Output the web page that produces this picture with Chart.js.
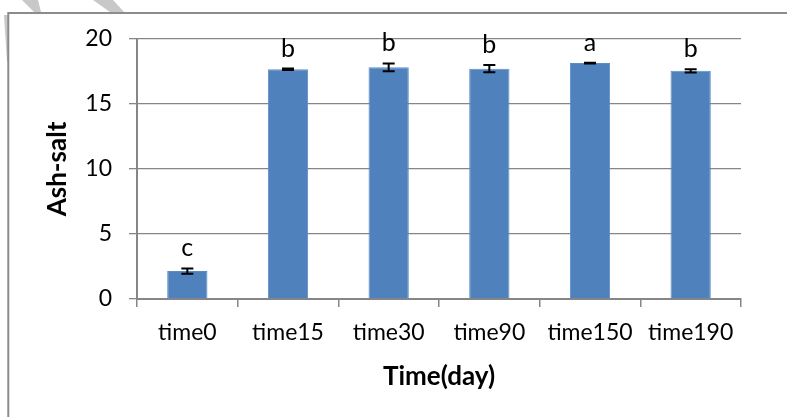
<!DOCTYPE html>
<html>
<head>
<meta charset="utf-8">
<script src="https://cdn.jsdelivr.net/npm/chart.js@4/dist/chart.umd.min.js"></script>
<style>
  html, body { margin: 0; padding: 0; background: #ffffff; }
  #wrap { position: relative; width: 787px; height: 417px; }
</style>
</head>
<body>
<div id="wrap"><canvas id="c" width="787" height="417"></canvas></div>
<script>
// ---- data ----
const categories = ['time0', 'time15', 'time30', 'time90', 'time150', 'time190'];
const ashSalt    = [2.15, 17.67, 17.82, 17.72, 18.15, 17.55];
const errors     = [0.2, 0.06, 0.3, 0.28, 0.03, 0.12];
const letters    = ['c', 'b', 'b', 'b', 'a', 'b'];
const yTicks     = [0, 5, 10, 15, 20];

const FONT = 'Lato, "Open Sans", sans-serif';
const GRAY = '#868686';

// frame + faint background shapes
const framePlugin = {
  id: 'frame',
  beforeDraw(chart) {
    const ctx = chart.ctx;
    ctx.save();
    ctx.fillStyle = '#ffffff';
    ctx.fillRect(0, 0, chart.width, chart.height);
    ctx.fillStyle = '#c8c8c8';
    const polys = [
      [[22,0],[38,0],[41,12],[34,12]],
      [[4,15],[8,15],[8,62],[7,62]],
      [[93,0],[113,0],[124,12],[110,12]]
    ];
    polys.forEach(p => {
      ctx.beginPath();
      ctx.moveTo(p[0][0], p[0][1]);
      for (let i = 1; i < p.length; i++) ctx.lineTo(p[i][0], p[i][1]);
      ctx.closePath();
      ctx.fill();
    });
    ctx.strokeStyle = '#8c8c8c';
    ctx.lineWidth = 2;
    ctx.beginPath();
    ctx.moveTo(787, 13);
    ctx.lineTo(8.3, 13);
    ctx.lineTo(8.3, 417);
    ctx.stroke();
    ctx.restore();
  }
};

// error bars + significance letters
const errPlugin = {
  id: 'errbars',
  afterDatasetsDraw(chart) {
    const ctx = chart.ctx;
    const meta = chart.getDatasetMeta(0);
    const y = chart.scales.y;
    ctx.save();
    ctx.strokeStyle = '#000000';
    ctx.lineWidth = 2;
    meta.data.forEach((bar, i) => {
      const v = ashSalt[i], e = errors[i];
      const x = bar.x;
      const yt = y.getPixelForValue(v + e);
      const yb = y.getPixelForValue(v - e);
      ctx.beginPath();
      ctx.moveTo(x, yt); ctx.lineTo(x, yb);
      ctx.moveTo(x - 6, yt); ctx.lineTo(x + 6, yt);
      ctx.moveTo(x - 6, yb); ctx.lineTo(x + 6, yb);
      ctx.stroke();
      ctx.fillStyle = '#000000';
      ctx.font = '25px ' + FONT;
      ctx.textAlign = 'center';
      ctx.textBaseline = 'alphabetic';
      ctx.fillText(letters[i], x, yt - 12);
    });
    ctx.restore();
  }
};

new Chart(document.getElementById('c'), {
  type: 'bar',
  data: {
    labels: categories,
    datasets: [{
      label: 'Ash-salt',
      data: ashSalt,
      backgroundColor: '#4F81BD',
      borderColor: '#5b8cc6',
      borderWidth: 1,
      barPercentage: 0.8,
      categoryPercentage: 0.5
    }]
  },
  options: {
    responsive: false,
    animation: false,
    devicePixelRatio: 1,
    layout: { padding: { top: 39, right: 46, left: 0, bottom: 0 } },
    plugins: {
      legend: { display: false },
      tooltip: { enabled: false }
    },
    scales: {
      x: {
        grid: { drawOnChartArea: false, drawTicks: true, tickLength: 8, color: GRAY, lineWidth: 1.5 },
        border: { display: true, color: GRAY, width: 2 },
        ticks: { color: '#000000', font: { family: FONT, size: 23 }, padding: 12, maxRotation: 0 },
        title: { display: true, text: 'Time(day)', color: '#000000',
                 font: { family: FONT, size: 26, weight: 'bold' }, padding: { top: 4, bottom: 25 } },
        afterFit(scale) { scale.height = 118; }
      },
      y: {
        min: 0, max: 20,
        afterBuildTicks(scale) { scale.ticks = yTicks.map(v => ({ value: v })); },
        grid: { color: GRAY, lineWidth: 1.3, tickLength: 8, drawTicks: true },
        border: { display: true, color: GRAY, width: 2 },
        ticks: { color: '#000000', font: { family: FONT, size: 23 }, padding: 17 },
        title: { display: true, text: 'Ash-salt', color: '#000000',
                 font: { family: FONT, size: 26, weight: 'bold' }, padding: { top: 42 } },
        afterFit(scale) { scale.width = 137; }
      }
    }
  },
  plugins: [framePlugin, errPlugin]
});
</script>
</body>
</html>
